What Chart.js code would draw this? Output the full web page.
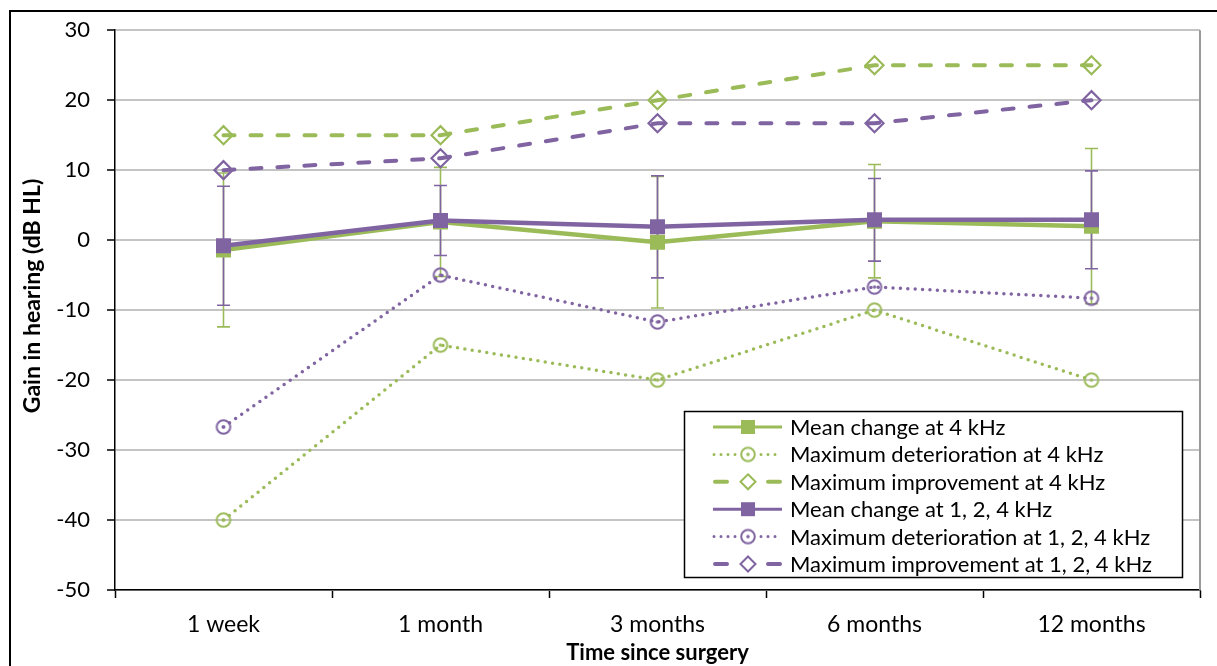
<!DOCTYPE html>
<html>
<head>
<meta charset="utf-8">
<script src="https://cdn.jsdelivr.net/npm/chart.js@4.4.1/dist/chart.umd.min.js"></script>
<style>
  html, body { margin: 0; padding: 0; background: #fff; }
  canvas { display: block; }
</style>
</head>
<body>
<canvas id="hearing" width="1217" height="666"></canvas>
<script>
// time points after surgery
const categories = ['1 week', '1 month', '3 months', '6 months', '12 months'];

// 4 kHz series
const mean4k = [-1.4, 2.6, -0.3, 2.7, 2.0];
const sd4k = [11.0, 7.8, 9.4, 8.1, 11.1];
const worst4k = [-40, -15, -20, -10, -20];
const best4k = [15, 15, 20, 25, 25];

// averaged over 1, 2 and 4 kHz
const mean124 = [-0.8, 2.8, 1.9, 2.9, 2.9];
const sd124 = [8.5, 5.0, 7.3, 5.9, 7.0];
const worst124 = [-26.7, -5, -11.7, -6.7, -8.3];
const best124 = [10, 11.7, 16.7, 16.7, 20];

const seriesNames = [
    'Mean change at 4 kHz',
    'Maximum deterioration at 4 kHz',
    'Maximum improvement at 4 kHz',
    'Mean change at 1, 2, 4 kHz',
    'Maximum deterioration at 1, 2, 4 kHz',
    'Maximum improvement at 1, 2, 4 kHz'
];
const yTicks = [30, 20, 10, 0, -10, -20, -30, -40, -50];

const green = '#9bbb59';
const purple = '#8064a2';
const fontFamily = "Lato, 'Open Sans', sans-serif";

// open circle with a dot in the middle
function ringMarker(color) {
    const c = document.createElement('canvas');
    c.width = 18; c.height = 18;
    const g = c.getContext('2d');
    g.strokeStyle = color;
    g.lineWidth = 2;
    g.beginPath();
    g.arc(9, 9, 6.8, 0, Math.PI * 2);
    g.stroke();
    g.fillStyle = color;
    g.beginPath();
    g.arc(9, 9, 1.8, 0, Math.PI * 2);
    g.fill();
    return c;
}
const ringGreen = ringMarker(green);
const ringPurple = ringMarker(purple);

function meanSet(label, data, color, order) {
    return {
        label, data, order,
        borderColor: color, backgroundColor: color,
        borderWidth: 4.5,
        pointStyle: 'rect', pointRadius: 10.6, pointBorderWidth: 0,
        pointBackgroundColor: color
    };
}
function worstSet(label, data, color, ring, order) {
    return {
        label, data, order,
        borderColor: color,
        borderWidth: 3.5,
        borderDash: [0, 7.4],
        borderCapStyle: 'round',
        pointStyle: ring, pointRadius: 8
    };
}
function bestSet(label, data, color, order) {
    return {
        label, data, order,
        borderColor: color,
        borderWidth: 4,
        borderDash: [11, 16],
        borderCapStyle: 'round',
        pointStyle: 'rectRot', pointRadius: 9, pointBorderWidth: 2.2,
        pointBorderColor: color, pointBackgroundColor: 'rgba(255,255,255,0)'
    };
}

// whiskers: mean +/- SD, drawn under the lines
const errorBars = {
    id: 'errorBars',
    beforeDatasetsDraw(chart) {
        const { ctx, scales: { x, y } } = chart;
        ctx.save();
        ctx.lineWidth = 1.6;
        [[mean4k, sd4k, green], [mean124, sd124, purple]].forEach(([m, sd, col]) => {
            ctx.strokeStyle = col;
            ctx.beginPath();
            m.forEach((v, i) => {
                const px = x.getPixelForValue(i);
                const top = y.getPixelForValue(v + sd[i]);
                const bot = y.getPixelForValue(v - sd[i]);
                ctx.moveTo(px, top); ctx.lineTo(px, bot);
                ctx.moveTo(px - 6.5, top); ctx.lineTo(px + 6.5, top);
                ctx.moveTo(px - 6.5, bot); ctx.lineTo(px + 6.5, bot);
            });
            ctx.stroke();
        });
        ctx.restore();
    }
};

// frame, right plot edge, y title and the boxed legend
const decorations = {
    id: 'decorations',
    afterDraw(chart) {
        const { ctx, chartArea: area } = chart;
        ctx.save();

        ctx.strokeStyle = '#999';
        ctx.lineWidth = 2;
        ctx.beginPath();
        ctx.moveTo(area.right, area.top);
        ctx.lineTo(area.right, area.bottom);
        ctx.stroke();

        ctx.strokeStyle = '#000';
        ctx.lineWidth = 2;
        ctx.strokeRect(10, 11, 1400, 800);

        ctx.save();
        ctx.translate(33, 296);
        ctx.rotate(-Math.PI / 2);
        ctx.fillStyle = '#000';
        ctx.font = 'bold 23px ' + fontFamily;
        ctx.textAlign = 'center';
        ctx.textBaseline = 'middle';
        ctx.fillText('Gain in hearing (dB HL)', 0, 0);
        ctx.restore();

        // legend box
        const bx = 684.5, by = 411.5, bw = 498, bh = 166;
        ctx.fillStyle = '#fff';
        ctx.fillRect(bx, by, bw, bh);
        ctx.strokeStyle = '#000';
        ctx.lineWidth = 1.5;
        ctx.strokeRect(bx, by, bw, bh);

        const metas = chart.data.datasets;
        ctx.font = '22px ' + fontFamily;
        ctx.textBaseline = 'middle';
        ctx.textAlign = 'left';
        seriesNames.forEach((name, i) => {
            const ds = metas[i];
            const rowY = 427 + i * 27.4;
            const x0 = 713, x1 = 782, mx = 748;
            ctx.strokeStyle = ds.borderColor;
            ctx.lineCap = ds.borderCapStyle || 'butt';
            ctx.lineWidth = ds.borderWidth;
            if (ds.pointStyle === 'rectRot') {
                ctx.setLineDash([]);
                ctx.beginPath();
                ctx.moveTo(x0 + 2, rowY); ctx.lineTo(x0 + 14, rowY);
                ctx.moveTo(x1 - 14, rowY); ctx.lineTo(x1 - 2, rowY);
                ctx.stroke();
                ctx.lineWidth = 2;
                ctx.beginPath();
                ctx.moveTo(mx, rowY - 7.5); ctx.lineTo(mx + 7.5, rowY);
                ctx.lineTo(mx, rowY + 7.5); ctx.lineTo(mx - 7.5, rowY);
                ctx.closePath();
                ctx.stroke();
            } else if (ds.pointStyle === 'rect') {
                ctx.setLineDash([]);
                ctx.lineWidth = 3;
                ctx.beginPath();
                ctx.moveTo(x0, rowY); ctx.lineTo(x1, rowY);
                ctx.stroke();
                ctx.fillStyle = ds.borderColor;
                ctx.fillRect(mx - 7, rowY - 7, 14, 14);
            } else {
                ctx.setLineDash([0, 7]);
                ctx.lineWidth = 3;
                ctx.beginPath();
                ctx.moveTo(x0 + 1, rowY); ctx.lineTo(mx - 12, rowY);
                ctx.moveTo(mx + 13, rowY); ctx.lineTo(x1, rowY);
                ctx.stroke();
                ctx.setLineDash([]);
                ctx.drawImage(ds.pointStyle, mx - 9, rowY - 9);
            }
            ctx.setLineDash([]);
            ctx.fillStyle = '#000';
            ctx.fillText(name, 790, rowY + 1);
        });
        ctx.restore();
    }
};

const config = {
    type: 'line',
    data: {
        labels: categories,
        datasets: [
            meanSet(seriesNames[0], mean4k, green, 4),
            worstSet(seriesNames[1], worst4k, green, ringGreen, 5),
            bestSet(seriesNames[2], best4k, green, 6),
            meanSet(seriesNames[3], mean124, purple, 1),
            worstSet(seriesNames[4], worst124, purple, ringPurple, 2),
            bestSet(seriesNames[5], best124, purple, 3)
        ]
    },
    options: {
        responsive: false,
        animation: false,
        layout: { padding: { left: 0, top: 28, right: 17, bottom: 0 } },
        elements: { line: { tension: 0 } },
        plugins: {
            legend: { display: false },
            tooltip: { enabled: false }
        },
        scales: {
            x: {
                offset: true,
                grid: {
                    offset: true,
                    drawOnChartArea: false,
                    tickLength: 8,
                    tickColor: '#000',
                    tickWidth: 1.5
                },
                border: { color: '#000', width: 1.5 },
                ticks: { color: '#000', padding: 13, font: { size: 23 }, maxRotation: 0 },
                title: {
                    display: true,
                    text: 'Time since surgery',
                    color: '#000',
                    font: { size: 22, weight: 'bold' },
                    padding: { top: 0, bottom: 0 }
                },
                afterFit: scale => { scale.height = 76; }
            },
            y: {
                min: -50,
                max: 30,
                afterBuildTicks: scale => { scale.ticks = yTicks.map(v => ({ value: v })); },
                grid: {
                    color: '#c4c4c4',
                    lineWidth: 2,
                    tickLength: 8,
                    tickColor: '#000',
                    tickWidth: 1.5
                },
                border: { color: '#000', width: 1.5 },
                ticks: { color: '#000', padding: 17, font: { size: 22 } },
                afterFit: scale => { scale.width = 115; }
            }
        }
    },
    plugins: [errorBars, decorations]
};

Chart.defaults.font.family = fontFamily;
new Chart(document.getElementById('hearing'), config);
</script>
</body>
</html>
